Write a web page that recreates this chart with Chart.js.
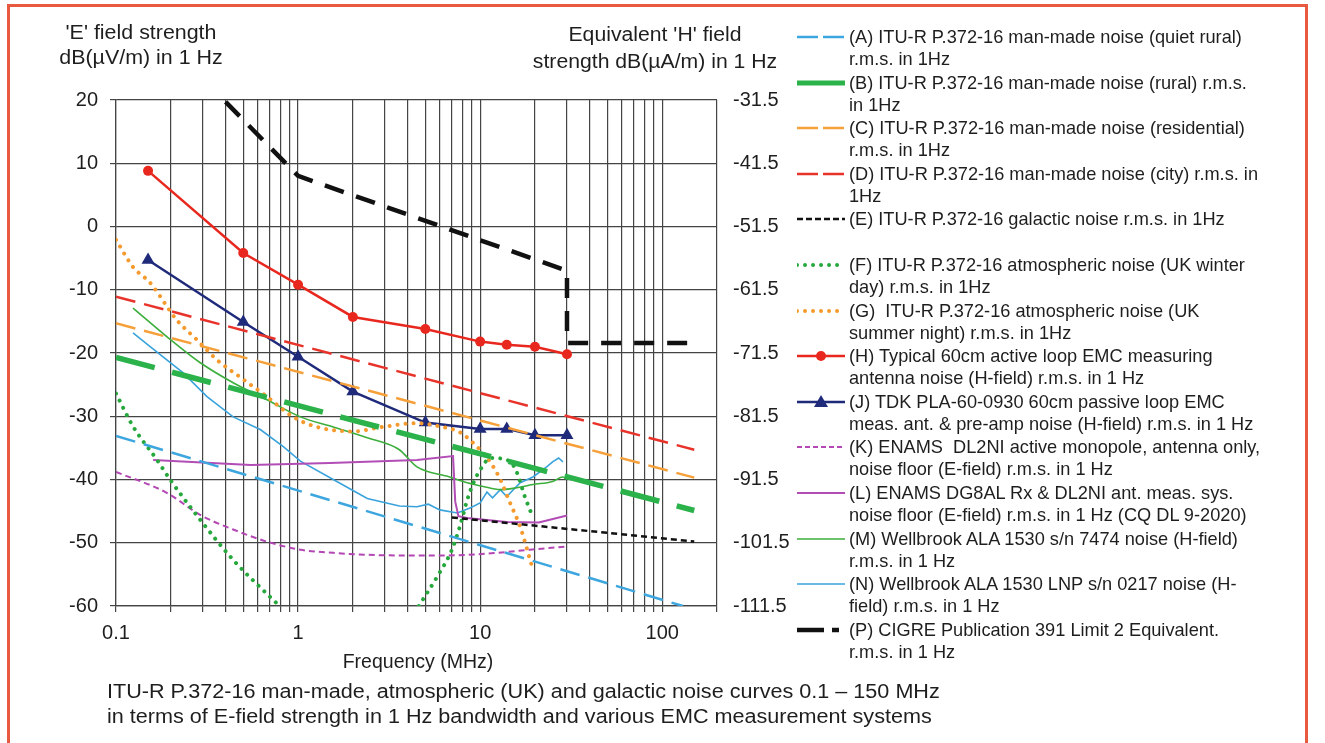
<!DOCTYPE html>
<html>
<head>
<meta charset="utf-8">
<script src="https://cdn.jsdelivr.net/npm/chart.js@4.4.1/dist/chart.umd.min.js"></script>
<style>
  body { margin: 0; background: #fff; font-family: 'Liberation Sans', Arial, sans-serif; color: #1e1e1e; }
  #wrap { position: relative; width: 1325px; height: 743px; overflow: hidden; background: #fff; }
  #frame { position: absolute; left: 7px; top: 4px; width: 1301px; height: 780px; border: 3px solid #e8593f; box-sizing: border-box; }
  #box { position: absolute; left: 0; top: 0; width: 1325px; height: 743px; }
  .t { position: absolute; white-space: pre; }
  .item { position: absolute; left: 797px; height: 45px; }
  .item svg { position: absolute; left: 0; top: 0; }
  .item div { position: absolute; left: 52px; top: 0; font-size: 18.2px; line-height: 22px; white-space: pre; }
</style>
</head>
<body>
<div id="wrap">
  <div id="box"><canvas id="chart"></canvas></div>
  <div id="frame"></div>
  <div class="t" style="left:21px;top:20px;width:240px;text-align:center;font-size:20px;line-height:25px;transform:scaleX(1.07);">'E' field strength
dB(µV/m) in 1 Hz</div>
  <div class="t" style="left:505px;top:21px;width:300px;text-align:center;font-size:20px;line-height:27px;transform:scaleX(1.06);">Equivalent 'H' field
strength dB(µA/m) in 1 Hz</div>
  <div class="t" style="left:268px;top:648px;width:300px;text-align:center;font-size:19.5px;line-height:26px;">Frequency (MHz)</div>
  <div class="t" style="left:107px;top:679px;font-size:20px;line-height:25px;transform:scaleX(1.08);transform-origin:left center;">ITU-R P.372-16 man-made, atmospheric (UK) and galactic noise curves 0.1 – 150 MHz
in terms of E-field strength in 1 Hz bandwidth and various EMC measurement systems</div>
  <div id="legend"></div>
</div>
<script>
// axis ticks
const xGrid = [0.1, 0.2, 0.3, 0.4, 0.5, 0.6, 0.7, 0.8, 0.9, 1, 2, 3, 4, 5, 6, 7, 8, 9,
  10, 20, 30, 40, 50, 60, 70, 80, 90, 100, 200];
const xLabelValues = [0.1, 1, 10, 100];
const xLabelText = ['0.1', '1', '10', '100'];
const hTicks = [-111.5, -101.5, -91.5, -81.5, -71.5, -61.5, -51.5, -41.5, -31.5];

// (A) man-made quiet rural
const aFreq = [0.1, 130];
const aVal = [-33.1, -60];
// (B) man-made rural
const bFreq = [0.1, 150];
const bVal = [-20.7, -44.9];
// (C) man-made residential
const cFreq = [0.1, 150];
const cVal = [-15.3, -39.7];
// (D) man-made city
const dFreq = [0.1, 150];
const dVal = [-11.1, -35.3];
// (E) galactic
const eFreq = [7, 150];
const eVal = [-46, -49.8];
// (F) atmospheric UK winter day
const fFreq = [0.1, 0.124, 0.168, 0.198, 0.289, 0.44, 0.79, 2, 4.6, 5.8, 7.0, 7.8, 8.5, 9.2, 10, 11.4, 13.7, 15.6, 17.7, 19.5];
const fVal = [-26.4, -31.6, -36.9, -40, -46.3, -52.7, -60, null, -60, -55.4, -51.1, -47.1, -43.2, -40.5, -38.5, -36.6, -36.8, -38.3, -42.9, -46];
// (G) atmospheric UK summer night
const gFreq = [0.1, 0.124, 0.154, 0.216, 0.278, 0.359, 0.48, 0.675, 0.94, 1.27, 2.0, 2.9, 4.5, 6, 7.8, 9.6, 11.4, 12.9, 14.6, 16.6, 19.3];
const gVal = [-2.1, -6.4, -8.9, -14.8, -17.9, -21.1, -23.8, -26.9, -30.1, -31.7, -32.4, -31.7, -31.1, -31.6, -32.6, -34.8, -37.3, -40, -43.7, -47.5, -53.8];
// (H) active loop
const hFreq = [0.15, 0.5, 1, 2, 5, 10, 14, 20, 30];
const hVal = [8.8, -4.2, -9.2, -14.3, -16.2, -18.2, -18.7, -19, -20.2];
// (J) TDK passive loop
const jFreq = [0.15, 0.5, 1, 2, 5, 10, 14, 20, 30];
const jVal = [-5.3, -15.1, -20.6, -26.1, -31, -32, -32, -33, -33];
// (K) ENAMS active monopole
const kFreq = [0.1, 0.19, 0.29, 0.44, 0.67, 1.03, 1.56, 2.4, 3.6, 6.6, 12.4, 18.8, 30];
const kVal = [-38.8, -42.1, -45.6, -47.9, -49.8, -51.1, -51.6, -51.9, -52, -52, -51.6, -51.1, -50.6];
// (L) ENAMS meas. system
const lFreq = [0.16, 0.55, 1.5, 4.5, 7.1, 7.3, 7.6, 8.5, 14, 21, 30];
const lVal = [-36.9, -37.7, -37.4, -36.9, -36.3, -43.5, -45.8, -46.1, -46.7, -46.8, -45.7];
// (M) Wellbrook 7474
const mFreq = [0.124, 0.19, 0.289, 0.44, 0.675, 1.03, 1.56, 2.4, 3.6, 4.5, 6.8, 8.5, 10.4, 12.9, 15.9, 19.5, 25, 28.5, 30];
const mVal = [-12.9, -17.4, -21.5, -24.7, -27.4, -30.1, -31.7, -33.4, -35.3, -38, -39.6, -40.5, -41.1, -41.6, -41.3, -40.8, -40.3, -39.6, -40];
// (N) Wellbrook LNP 0217
const nFreq = [0.124, 0.154, 0.233, 0.316, 0.44, 0.62, 0.83, 1.03, 1.56, 2.4, 3.6, 4.5, 5.2, 6.0, 7.5, 8.8, 10, 10.9, 11.7, 12.9, 14, 16.6, 19.5, 23.2, 25, 27, 28.5];
const nVal = [-16.8, -19, -23.1, -26.9, -30.1, -32.1, -34.8, -37.1, -40, -43, -44.2, -44.3, -43.9, -44.8, -45.3, -44.5, -43.7, -42, -42.9, -41.6, -42.7, -40.5, -39.6, -38, -37.2, -36.6, -37.2];
// (P) CIGRE limit 2
const pFreq = [0.4, 1, 30, 30, 150];
const pVal = [19.7, 8, -7, -18.4, -18.4];

const pts = (fs, vs) => fs.map((f, i) => ({ x: f, y: vs[i] }));

const series = [
  { key: 'A', label: ['(A) ITU-R P.372-16 man-made noise (quiet rural)', 'r.m.s. in 1Hz'], data: pts(aFreq, aVal),
    color: '#3ea6df', width: 2.5, dash: [20, 9], sample: '21 5' },
  { key: 'B', label: ['(B) ITU-R P.372-16 man-made noise (rural) r.m.s.', 'in 1Hz'], data: pts(bFreq, bVal),
    color: '#2bb24a', width: 5.5, dash: [40, 18], sample: '' },
  { key: 'C', label: ['(C) ITU-R P.372-16 man-made noise (residential)', 'r.m.s. in 1Hz'], data: pts(cFreq, cVal),
    color: '#f6a03a', width: 2.5, dash: [20, 9], sample: '21 5' },
  { key: 'D', label: ['(D) ITU-R P.372-16 man-made noise (city) r.m.s. in', '1Hz'], data: pts(dFreq, dVal),
    color: '#e8332a', width: 2.5, dash: [20, 9], sample: '21 5' },
  { key: 'E', label: ['(E) ITU-R P.372-16 galactic noise r.m.s. in 1Hz', ''], data: pts(eFreq, eVal),
    color: '#111111', width: 2.5, dash: [6, 4], sample: '6 3' },
  { key: 'F', label: ['(F) ITU-R P.372-16 atmospheric noise (UK winter', 'day) r.m.s. in 1Hz'], data: pts(fFreq, fVal),
    color: '#27a83d', width: 4, dash: [0.01, 8], cap: 'round', sample: '0.01 8', smooth: true },
  { key: 'G', label: ['(G)  ITU-R P.372-16 atmospheric noise (UK', 'summer night) r.m.s. in 1Hz'], data: pts(gFreq, gVal),
    color: '#f59a2e', width: 4, dash: [0.01, 8], cap: 'round', sample: '0.01 8', smooth: true },
  { key: 'H', label: ['(H) Typical 60cm active loop EMC measuring', 'antenna noise (H-field) r.m.s. in 1 Hz'], data: pts(hFreq, hVal),
    color: '#e8281e', width: 2.5, dash: [], sample: '', point: 'circle', radius: 5 },
  { key: 'J', label: ['(J) TDK PLA-60-0930 60cm passive loop EMC', 'meas. ant. & pre-amp noise (H-field) r.m.s. in 1 Hz'], data: pts(jFreq, jVal),
    color: '#1f2a7a', width: 2.5, dash: [], sample: '', point: 'triangle', radius: 7.5 },
  { key: 'K', label: ['(K) ENAMS  DL2NI active monopole, antenna only,', 'noise floor (E-field) r.m.s. in 1 Hz'], data: pts(kFreq, kVal),
    color: '#b347b3', width: 2, dash: [6, 4], sample: '5 3', smooth: true },
  { key: 'L', label: ['(L) ENAMS DG8AL Rx & DL2NI ant. meas. sys.', 'noise floor (E-field) r.m.s. in 1 Hz (CQ DL 9-2020)'], data: pts(lFreq, lVal),
    color: '#b24db6', width: 2, dash: [], sample: '' },
  { key: 'M', label: ['(M) Wellbrook ALA 1530 s/n 7474 noise (H-field)', 'r.m.s. in 1 Hz'], data: pts(mFreq, mVal),
    color: '#3cae3c', width: 1.6, dash: [], sample: '', smooth: true },
  { key: 'N', label: ['(N) Wellbrook ALA 1530 LNP s/n 0217 noise (H-', 'field) r.m.s. in 1 Hz'], data: pts(nFreq, nVal),
    color: '#3aa3dc', width: 1.6, dash: [], sample: '' },
  { key: 'P', label: ['(P) CIGRE Publication 391 Limit 2 Equivalent.', 'r.m.s. in 1 Hz'], data: pts(pFreq, pVal),
    color: '#111111', width: 4.5, dash: [20, 13], sample: '27 8 7 40' }
];

const datasets = series.map(s => ({
  label: s.label.join(' '),
  data: s.data,
  borderColor: s.color,
  backgroundColor: s.color,
  borderWidth: s.width,
  borderDash: s.dash,
  borderCapStyle: s.cap || 'butt',
  pointStyle: s.point || 'circle',
  pointRadius: s.point ? s.radius : 0,
  pointHoverRadius: 0,
  pointBorderWidth: 0,
  cubicInterpolationMode: s.smooth ? 'monotone' : 'default',
  tension: 0,
  spanGaps: false,
  fill: false
}));

const tickFont = { family: "'Liberation Sans', Arial, sans-serif", size: 20 };

new Chart(document.getElementById('chart'), {
  type: 'line',
  data: { datasets },
  options: {
    responsive: true,
    maintainAspectRatio: false,
    animation: false,
    layout: { padding: { top: 100, right: 518, left: 0, bottom: 0 } },
    plugins: { legend: { display: false }, tooltip: { enabled: false } },
    scales: {
      x: {
        type: 'logarithmic',
        min: 0.1,
        max: 200,
        afterBuildTicks: s => { s.ticks = xGrid.map(v => ({ value: v })); },
        afterFit: s => { s.height = 137; },
        grid: { color: '#444', lineWidth: 1.2, tickLength: 6 },
        border: { color: '#444', width: 1.2 },
        ticks: {
          autoSkip: false, maxRotation: 0, minRotation: 0, padding: 9,
          color: '#1e1e1e', font: tickFont,
          callback: v => {
            const i = xLabelValues.findIndex(l => Math.abs(l - v) < 1e-9);
            return i >= 0 ? xLabelText[i] : '';
          }
        }
      },
      y: {
        position: 'left',
        min: -60,
        max: 20,
        afterFit: s => { s.width = 116; },
        grid: { color: '#444', lineWidth: 1.2, tickLength: 6 },
        border: { color: '#444', width: 1.2 },
        ticks: { stepSize: 10, padding: 12, color: '#1e1e1e', font: tickFont }
      },
      y1: {
        position: 'right',
        min: -111.5,
        max: -31.5,
        afterBuildTicks: s => { s.ticks = hTicks.map(v => ({ value: v })); },
        afterFit: s => { s.width = 90; },
        grid: { display: false, drawTicks: false },
        border: { display: false },
        ticks: { padding: 16, color: '#1e1e1e', font: tickFont, callback: v => v.toFixed(1) }
      }
    }
  }
});

// legend in the page, samples take the dataset styles
const legend = document.getElementById('legend');
series.forEach((s, i) => {
  const item = document.createElement('div');
  item.className = 'item';
  item.style.top = (26 + i * 45.6) + 'px';
  const w = Math.min(s.width, 5);
  let svg = `<svg width="50" height="22"><line x1="0" y1="11" x2="48" y2="11" stroke="${s.color}" stroke-width="${w}"` +
    (s.sample ? ` stroke-dasharray="${s.sample}"` : '') + (s.cap ? ` stroke-linecap="${s.cap}"` : '') + '/>';
  if (s.point === 'circle') svg += `<circle cx="24" cy="11" r="5" fill="${s.color}"/>`;
  if (s.point === 'triangle') svg += `<polygon points="24,4 31,16 17,16" fill="${s.color}"/>`;
  svg += '</svg>';
  item.innerHTML = svg + `<div>${s.label.join('\n').replace(/&/g, '&amp;')}</div>`;
  legend.appendChild(item);
});
</script>
</body>
</html>
